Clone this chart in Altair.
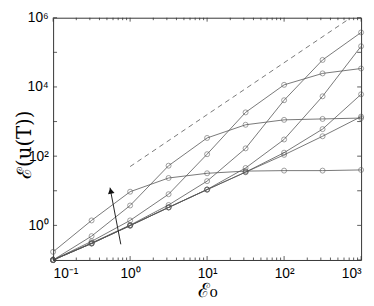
import altair as alt
import pandas as pd

# ---- data ----
E0 = [0.1, 0.316, 1, 3.16, 10, 31.6, 100, 316, 1000]
s1 = [0.172, 1.39, 9.38, 23.4, 32.0, 37.0, 38.2, 38.2, 40.0]
s2 = [0.1, 0.489, 3.75, 53.0, 336, 807, 1120, 1190, 1260]
s3 = [0.1, 0.346, 1.39, 7.96, 114, 1840, 11500, 24600, 34100]
s4 = [0.1, 0.31, 1.02, 3.88, 19.0, 168, 4130, 60300, 375000]
s5 = [0.1, 0.30, 0.985, 3.30, 10.9, 45.5, 303, 5370, 150000]
s6 = [0.1, 0.30, 0.985, 3.30, 10.8, 34.6, 126, 605, 6120]
s7 = [0.1, 0.30, 0.985, 3.30, 10.8, 34.6, 109, 376, 1390]
series = {"s1": s1, "s2": s2, "s3": s3, "s4": s4, "s5": s5, "s6": s6, "s7": s7}

dash_x = [1, 700]
dash_y = [50, 9.3e5]

arrow_x = [0.757, 0.548]
arrow_y = [0.284, 12.3]
arrow_head_x = [0.56]
arrow_head_y = [10.0]

x_tick_vals = [0.1, 1, 10, 100, 1000]
x_tick_labels = ["10⁻¹", "10⁰", "10¹", "10²", "10³"]
y_tick_vals = [1, 100, 1e4, 1e6]
y_tick_labels = ["10⁰", "10²", "10⁴", "10⁶"]
y_decades = [0.1, 1, 10, 100, 1e3, 1e4, 1e5, 1e6]
x_major = [0.1, 1, 10, 100, 1000]
x_minor = [m * 10 ** d for d in [-1, 0, 1, 2] for m in range(2, 10)]

W, H = 314, 247
LINE = "#555555"
FRAME = "#333333"

def expr(vals, labels):
    parts = []
    for v, l in zip(vals[:-1], labels[:-1]):
        parts.append(f"datum.value < {v * 3.16} ? '{l}' : ")
    return "".join(parts) + f"'{labels[-1]}'"

rows = [{"x": x, "y": y, "s": k} for k, ys in series.items() for x, y in zip(E0, ys)]
df = pd.DataFrame(rows)

xs = alt.Scale(type="log", domain=[0.1, 1000], nice=False)
ys_ = alt.Scale(type="log", domain=[0.1, 1e6], nice=False)

xaxis = alt.Axis(values=x_tick_vals, labelExpr=expr(x_tick_vals, x_tick_labels),
                 tickSize=0, domain=False, grid=False, labelFont="Liberation Sans",
                 labelFontSize=14, labelPadding=7, labelColor="#000",
                 title="ℰ₀", titleFont="DejaVu Serif", titleFontSize=20,
                 titleFontWeight="normal", titleColor="#000",
                 titleX=W / 2, titleY=31, titleAlign="center", titleBaseline="middle")
yaxis = alt.Axis(values=y_tick_vals, labelExpr=expr(y_tick_vals, y_tick_labels),
                 tickSize=0, domain=False, grid=False, labelFont="Liberation Sans",
                 labelFontSize=14, labelPadding=5, labelColor="#000",
                 title="ℰ(u(T))", titleFont="DejaVu Serif", titleFontSize=20,
                 titleFontWeight="normal", titleColor="#000", titleAngle=270,
                 titleX=-29, titleY=129, titleAlign="center", titleBaseline="middle")

base = alt.Chart(df)
lines = base.mark_line(color=LINE, strokeWidth=0.8).encode(
    x=alt.X("x:Q", scale=xs, axis=xaxis),
    y=alt.Y("y:Q", scale=ys_, axis=yaxis),
    detail="s:N",
)
pts = base.mark_point(shape="circle", filled=False, color=LINE, size=26, strokeWidth=0.8).encode(
    x=alt.X("x:Q", scale=xs), y=alt.Y("y:Q", scale=ys_), detail="s:N"
)

dash = alt.Chart(pd.DataFrame({"x": dash_x, "y": dash_y})).mark_line(
    color=LINE, strokeWidth=0.8, strokeDash=[5, 4]
).encode(x=alt.X("x:Q", scale=xs), y=alt.Y("y:Q", scale=ys_))

arrow = alt.Chart(pd.DataFrame({"x": arrow_x, "y": arrow_y})).mark_line(
    color="#222", strokeWidth=1
).encode(x=alt.X("x:Q", scale=xs), y=alt.Y("y:Q", scale=ys_))
head = alt.Chart(pd.DataFrame({"x": arrow_head_x, "y": arrow_head_y})).mark_point(
    shape="triangle-up", filled=True, color="#111", size=45, angle=349, opacity=1
).encode(x=alt.X("x:Q", scale=xs), y=alt.Y("y:Q", scale=ys_))

def xticks(vals, ln):
    d = pd.DataFrame({"v": vals})
    b = alt.Chart(d).mark_rule(color=FRAME, strokeWidth=0.8)
    return [
        b.encode(x=alt.X("v:Q", scale=xs), y=alt.value(H), y2=alt.value(H - ln)),
        b.encode(x=alt.X("v:Q", scale=xs), y=alt.value(0), y2=alt.value(ln)),
    ]

def yticks(vals, ln):
    d = pd.DataFrame({"v": vals})
    b = alt.Chart(d).mark_rule(color=FRAME, strokeWidth=0.8)
    return [
        b.encode(y=alt.Y("v:Q", scale=ys_), x=alt.value(0), x2=alt.value(ln)),
        b.encode(y=alt.Y("v:Q", scale=ys_), x=alt.value(W), x2=alt.value(W - ln)),
    ]

layers = [lines, pts, dash, arrow, head] + xticks(x_major, 4) + xticks(x_minor, 2.5) + yticks(y_decades, 4)

chart = alt.layer(*layers).properties(
    width=W, height=H,
    autosize=alt.AutoSizeParams(type="none"),
    padding={"left": 46, "top": 7, "right": 5, "bottom": 44},
).configure_view(stroke=FRAME, strokeWidth=1)

chart.save("out.html", embed_options={"renderer": "svg", "actions": False})
